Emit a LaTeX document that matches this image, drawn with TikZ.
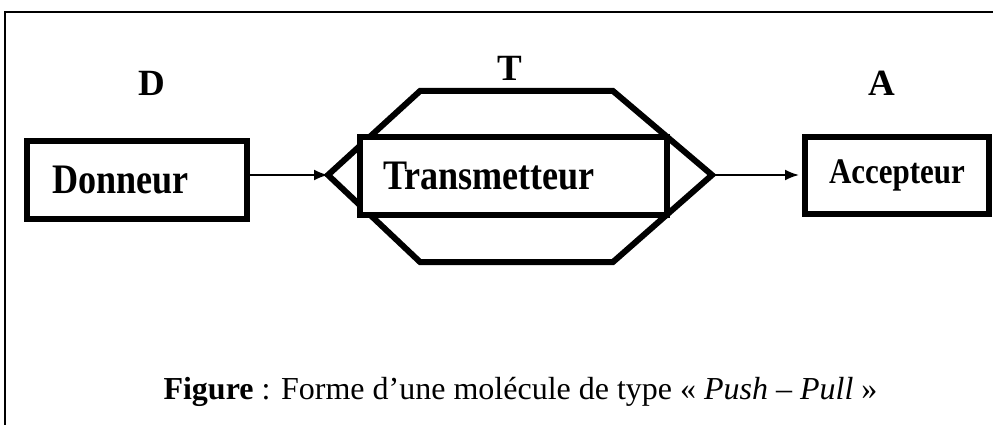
\documentclass[tikz,border=0pt]{standalone}
\usepackage{fontspec}
\setmainfont{Liberation Serif}
\usepackage{graphicx}
\usetikzlibrary{arrows.meta}
\newcommand{\narrow}[1]{\scalebox{.86}[1]{#1}}

\begin{document}
\begin{tikzpicture}[x = 1pt, y = -1pt,
  box/.style = {draw, line width = 6pt, fill = white, inner sep = 0pt},
  big/.style = {font = \bfseries\fontsize{42}{42}\selectfont},
  letter/.style = {font = \bfseries\fontsize{37}{37}\selectfont, anchor = base},
  link/.style = {line width = 2pt, -{Latex[length = 14pt, width = 11pt]}}]
 \useasboundingbox (0, 0) rectangle (993, 425);
 \draw[line width = 2pt] (5, 425) -- (5, 12) -- (993, 12);
 % the hexagon behind the transmitter
 \coordinate (tipL) at (328, 175);
 \coordinate (tipR) at (712, 175);
 \draw[line width = 6pt] (tipL) -- (420, 91) -- (613, 91) -- (tipR) -- (613, 262) -- (420, 262) -- cycle;
 \node[box, big, minimum width = 220pt, minimum height = 78pt, text width = 170pt, inner xsep = 25pt, align = left] (don) at (137, 180) {\narrow{Donneur}};
 \node[box, big, minimum width = 307pt, minimum height = 77pt, text width = 261pt, inner xsep = 23pt, align = left] (tra) at (513.5, 176) {\narrow{Transmetteur}};
 \node[box, font = \bfseries\fontsize{36}{36}\selectfont, minimum width = 184pt, minimum height = 77pt] (acc) at (897, 175.5) {\narrow{Accepteur}};
 \node[letter] (labD) at (152, 96) {D};
 \node[letter] (labT) at (510, 81) {T};
 \node[letter] (labA) at (881.5, 96) {A};
 \draw[link] (don.east |- tipL) -- (tipL);
 \draw[link, shorten > = 3pt] (tipR) -- (tipR -| acc.west);
 \node[anchor = base west, font = \fontsize{32}{32}\selectfont] (cap) at (160, 399) {\textbf{Figure} : Forme d’une molécule de type « \textit{Push} – \textit{Pull} »};
\end{tikzpicture}
\end{document}
